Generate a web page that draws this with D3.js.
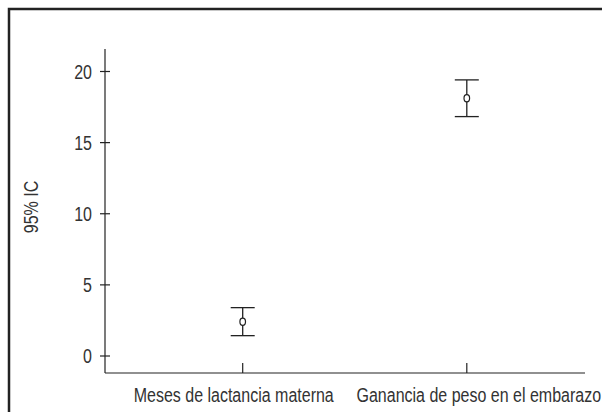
<!DOCTYPE html>
<html>
<head>
<meta charset="utf-8">
<script src="https://cdn.jsdelivr.net/npm/d3@7"></script>
<style>
  body { margin: 0; background: #fff; }
  svg text { font-family: "Liberation Sans", Arial, sans-serif; fill: #333; }
</style>
</head>
<body>
<svg width="602" height="412"></svg>
<script>
var categories = ['Meses de lactancia materna', 'Ganancia de peso en el embarazo'];
var means = [2.41, 18.12];
var lowerCI = [1.43, 16.83];
var upperCI = [3.40, 19.41];
var yTicks = [0, 5, 10, 15, 20];
var yLabel = '95% IC';

var svg = d3.select('svg');
var lineColor = '#222';
var fontSize = 20;
var squeeze = 'scale(0.8,1)'; // fake a condensed face

// frame: top and left border only
svg.append('path')
	.attr('d', 'M9,412 V9 H602')
	.attr('fill', 'none')
	.attr('stroke', '#222')
	.attr('stroke-width', 2.5);

var plot = {l: 105, r: 585, t: 49, b: 373};

var y = d3.scaleLinear()
	.domain([0, 20])
	.range([356, 71.5]);

var x = d3.scalePoint()
	.domain(categories)
	.range([242.7, 466.8]);

// labels don't sit exactly under the ticks in the original
var labelShift = [-9, 12];

// y axis
svg.append('line')
	.attr('x1', plot.l).attr('x2', plot.l)
	.attr('y1', plot.t).attr('y2', plot.b)
	.attr('stroke', lineColor).attr('stroke-width', 1.2);

var yt = svg.selectAll('.ytick')
	.data(yTicks)
	.enter()
	.append('g')
	.attr('class', 'ytick')
	.attr('transform', function(d) { return 'translate(0,' + y(d) + ')'; });

yt.append('line')
	.attr('x1', plot.l - 5).attr('x2', plot.l + 5)
	.attr('stroke', lineColor).attr('stroke-width', 1.2);

yt.append('text')
	.attr('transform', 'translate(' + (plot.l - 13) + ',0) ' + squeeze)
	.attr('dy', '0.37em')
	.attr('text-anchor', 'end')
	.attr('font-size', fontSize)
	.text(function(d) { return d; });

// x axis
svg.append('line')
	.attr('x1', plot.l).attr('x2', plot.r)
	.attr('y1', plot.b).attr('y2', plot.b)
	.attr('stroke', lineColor).attr('stroke-width', 1.2);

var xt = svg.selectAll('.xtick')
	.data(categories)
	.enter()
	.append('g')
	.attr('class', 'xtick')
	.attr('transform', function(d) { return 'translate(' + x(d) + ',' + plot.b + ')'; });

xt.append('line')
	.attr('y1', 0).attr('y2', -10)
	.attr('stroke', lineColor).attr('stroke-width', 1.2);

xt.append('text')
	.attr('transform', function(d, i) { return 'translate(' + labelShift[i] + ',28.7) ' + squeeze; })
	.attr('text-anchor', 'middle')
	.attr('font-size', fontSize)
	.text(function(d) { return d; });

// y label
svg.append('text')
	.attr('transform', 'translate(38,207) rotate(-90) ' + squeeze)
	.attr('text-anchor', 'middle')
	.attr('font-size', fontSize)
	.text(yLabel);

// error bars
var bars = svg.selectAll('.errbar')
	.data(categories)
	.enter()
	.append('g')
	.attr('class', 'errbar');

bars.append('line')
	.attr('x1', function(d) { return x(d); })
	.attr('x2', function(d) { return x(d); })
	.attr('y1', function(d, i) { return y(upperCI[i]); })
	.attr('y2', function(d, i) { return y(lowerCI[i]); })
	.attr('stroke', lineColor).attr('stroke-width', 1.3);

bars.append('line')
	.attr('x1', function(d) { return x(d) - 12; })
	.attr('x2', function(d) { return x(d) + 12; })
	.attr('y1', function(d, i) { return y(upperCI[i]); })
	.attr('y2', function(d, i) { return y(upperCI[i]); })
	.attr('stroke', lineColor).attr('stroke-width', 1.3);

bars.append('line')
	.attr('x1', function(d) { return x(d) - 12; })
	.attr('x2', function(d) { return x(d) + 12; })
	.attr('y1', function(d, i) { return y(lowerCI[i]); })
	.attr('y2', function(d, i) { return y(lowerCI[i]); })
	.attr('stroke', lineColor).attr('stroke-width', 1.3);

bars.append('ellipse')
	.attr('cx', function(d) { return x(d); })
	.attr('cy', function(d, i) { return y(means[i]); })
	.attr('rx', 2.8)
	.attr('ry', 3.6)
	.attr('fill', '#fff')
	.attr('stroke', lineColor).attr('stroke-width', 1.2);
</script>
</body>
</html>
